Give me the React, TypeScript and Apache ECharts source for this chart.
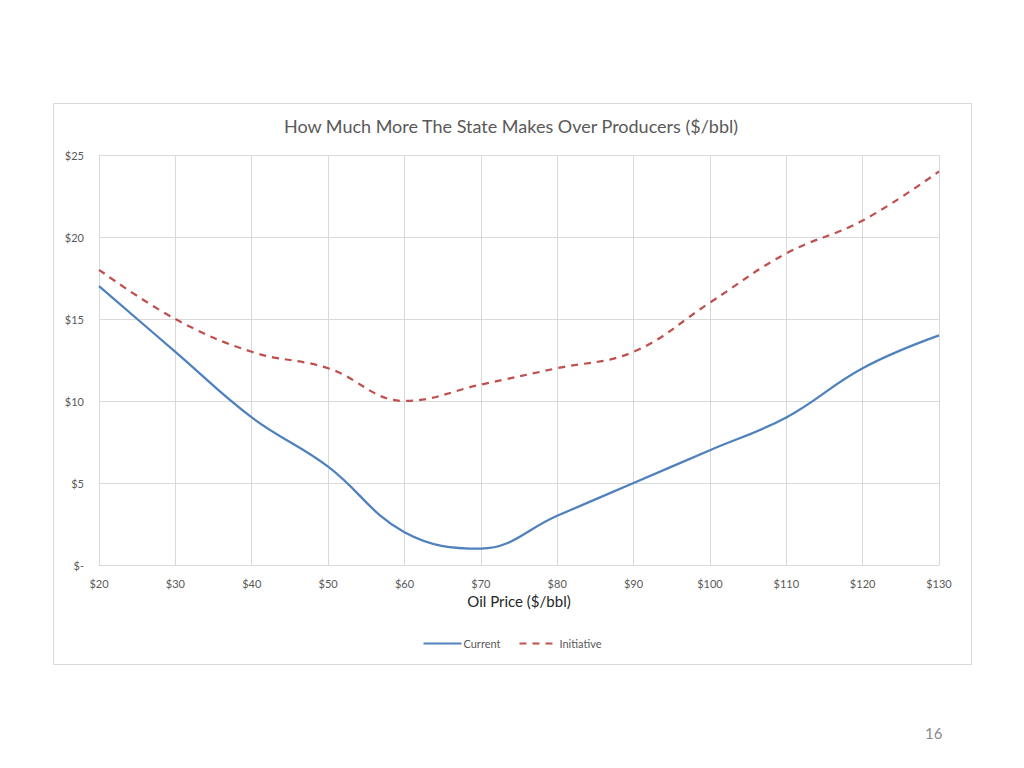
import React, { useEffect, useRef } from "react";
import * as echarts from "echarts";

const prices = [20, 30, 40, 50, 60, 70, 80, 90, 100, 110, 120, 130];
const currentValues = [17, 13, 9, 6, 2, 1, 3, 5, 7, 9, 12, 14];
const initiativeValues = [18, 15, 13, 12, 10, 11, 12, 13, 16, 19, 21, 24];
const titleText = "How Much More The State Makes Over Producers ($/bbl)";
const xAxisName = "Oil Price ($/bbl)";
const seriesNames = ["Current", "Initiative"];
const pageNumber = "16";

const FONT = "Lato, 'Open Sans', sans-serif";

export default function App() {
  const ref = useRef<HTMLDivElement>(null);
  useEffect(() => {
    if (!ref.current) return;
    const chart = echarts.init(ref.current, undefined, { renderer: "svg" });
    chart.setOption({
      animation: false,
      backgroundColor: "#ffffff",
      textStyle: { fontFamily: FONT },
      title: {
        text: titleText,
        left: 506,
        top: 112,
        textAlign: "center",
        textStyle: { fontSize: 18, fontWeight: "normal", color: "#595959", fontFamily: FONT },
      },
      legend: {
        top: 633,
        left: "center",
        itemWidth: 38,
        itemHeight: 12,
        itemGap: 18,
        itemStyle: { opacity: 0 },
        textStyle: { fontSize: 11, color: "#595959", fontFamily: FONT, padding: [0, 0, 0, -3] },
        data: seriesNames,
      },
      grid: { left: 99, right: 85, top: 155, bottom: 203 },
      xAxis: {
        type: "value",
        min: 20,
        max: 130,
        interval: 10,
        name: xAxisName,
        nameLocation: "middle",
        nameGap: 28,
        nameTextStyle: { fontSize: 15, color: "#262626", fontFamily: FONT },
        axisLine: { show: true, lineStyle: { color: "#d9d9d9", width: 1 } },
        axisTick: { show: false },
        axisLabel: {
          formatter: (v: number) => "$" + v,
          fontSize: 11,
          color: "#595959",
          margin: 13,
          fontFamily: FONT,
        },
        splitLine: { show: true, lineStyle: { color: "#d9d9d9", width: 1 } },
      },
      yAxis: {
        type: "value",
        min: 0,
        max: 25,
        interval: 5,
        axisLine: { show: true, lineStyle: { color: "#d9d9d9", width: 1 } },
        axisTick: { show: false },
        axisLabel: {
          formatter: (v: number) => (v === 0 ? "$-" : "$" + v),
          fontSize: 11,
          color: "#595959",
          margin: 15,
          fontFamily: FONT,
        },
        splitLine: { show: true, lineStyle: { color: "#d9d9d9", width: 1 } },
      },
      series: [
        {
          name: seriesNames[0],
          type: "line",
          smooth: 0.4,
          showSymbol: false,
          symbol: "none",
          data: prices.map((p, i) => [p, currentValues[i]]),
          lineStyle: { color: "#4f81bd", width: 2.25 },
          itemStyle: { color: "#4f81bd" },
        },
        {
          name: seriesNames[1],
          type: "line",
          smooth: 0.4,
          showSymbol: false,
          symbol: "none",
          data: prices.map((p, i) => [p, initiativeValues[i]]),
          lineStyle: { color: "#c0504d", width: 2.25, type: [7, 6] },
          itemStyle: { color: "#c0504d" },
        },
      ],
      graphic: [
        {
          type: "rect",
          shape: { x: 53.5, y: 103.5, width: 918, height: 561 },
          style: { fill: "none", stroke: "#d9d9d9", lineWidth: 1 },
          z: -10,
          silent: true,
        },
        {
          type: "text",
          left: 925,
          top: 725,
          style: { text: pageNumber, fontSize: 15, fill: "#8b8b8b", fontFamily: FONT },
        },
      ],
    });
    return () => chart.dispose();
  }, []);
  return (
    <div
      ref={ref}
      style={{ position: "absolute", left: 0, top: 0, width: 1024, height: 768 }}
    />
  );
}
